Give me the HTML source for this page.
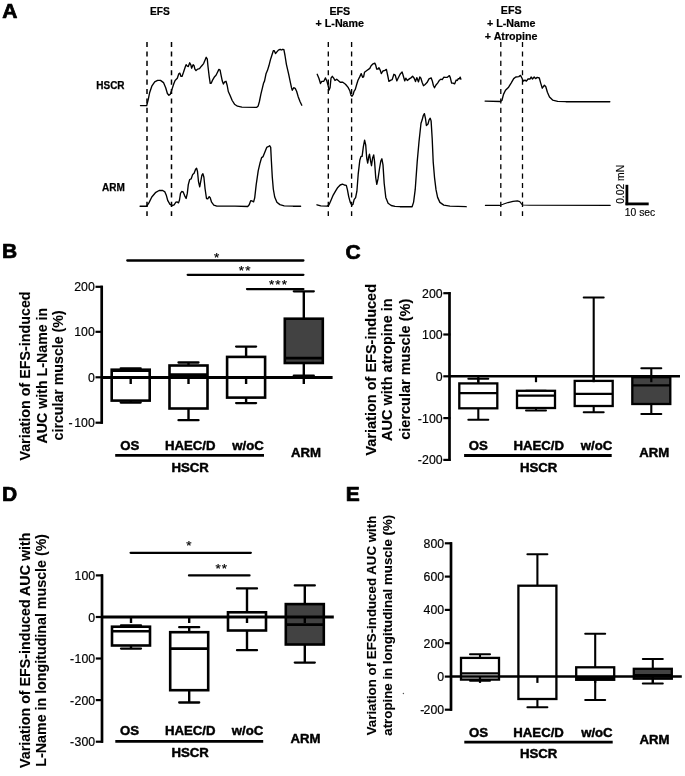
<!DOCTYPE html>
<html lang="en">
<head>
<meta charset="utf-8">
<title>Figure: EFS-induced contractile responses in HSCR and ARM</title>
<style>
html,body{margin:0;padding:0;background:#fff;}
body{width:685px;height:776px;overflow:hidden;}
svg{display:block;}
svg text{font-family:"Liberation Sans", Arial, sans-serif;fill:#000;}
</style>
</head>
<body>
<svg width="685" height="776" viewBox="0 0 685 776">
<rect x="0" y="0" width="685" height="776" fill="#fff"/>
<text x="2.20" y="17.60" font-size="21" font-weight="bold" text-anchor="start" stroke="#000" stroke-width="0.74" stroke-linejoin="round" >A</text>
<text x="159.80" y="14.60" font-size="10.2" font-weight="bold" text-anchor="middle" stroke="#000" stroke-width="0.20" stroke-linejoin="round" >EFS</text>
<text x="124.60" y="89.30" font-size="10" font-weight="bold" text-anchor="end" stroke="#000" stroke-width="0.25" stroke-linejoin="round" >HSCR</text>
<text x="124.80" y="191.40" font-size="10" font-weight="bold" text-anchor="end" stroke="#000" stroke-width="0.25" stroke-linejoin="round" >ARM</text>
<text x="339.80" y="14.80" font-size="10.7" font-weight="bold" text-anchor="middle" stroke="#000" stroke-width="0.21" stroke-linejoin="round" >EFS</text>
<text x="339.80" y="27.20" font-size="10.7" font-weight="bold" text-anchor="middle" stroke="#000" stroke-width="0.21" stroke-linejoin="round" >+ L-Name</text>
<text x="511.20" y="14.00" font-size="10.7" font-weight="bold" text-anchor="middle" stroke="#000" stroke-width="0.21" stroke-linejoin="round" >EFS</text>
<text x="511.20" y="26.60" font-size="10.7" font-weight="bold" text-anchor="middle" stroke="#000" stroke-width="0.21" stroke-linejoin="round" >+ L-Name</text>
<text x="511.20" y="39.60" font-size="10.7" font-weight="bold" text-anchor="middle" stroke="#000" stroke-width="0.21" stroke-linejoin="round" >+ Atropine</text>
<line x1="147.00" y1="42.00" x2="147.00" y2="216.00" stroke="#000" stroke-width="1.5" stroke-linecap="butt" stroke-dasharray="5.1 4.3"/>
<line x1="171.50" y1="42.00" x2="171.50" y2="216.00" stroke="#000" stroke-width="1.5" stroke-linecap="butt" stroke-dasharray="5.1 4.3"/>
<line x1="328.30" y1="42.00" x2="328.30" y2="216.00" stroke="#000" stroke-width="1.35" stroke-linecap="butt" stroke-dasharray="5.1 4.3"/>
<line x1="351.60" y1="42.00" x2="351.60" y2="216.00" stroke="#000" stroke-width="1.35" stroke-linecap="butt" stroke-dasharray="5.1 4.3"/>
<line x1="500.80" y1="42.00" x2="500.80" y2="216.00" stroke="#000" stroke-width="1.3" stroke-linecap="butt" stroke-dasharray="5.1 4.3"/>
<line x1="522.50" y1="42.00" x2="522.50" y2="216.00" stroke="#000" stroke-width="1.3" stroke-linecap="butt" stroke-dasharray="5.1 4.3"/>
<path d="M140.5,105.6 L146.7,105.6 L148.1,100.1 L149.6,92.8 L151.8,86.2 L154.7,81.8 L157.6,80.4 L160.5,80.4 L163.5,82.6 L165.7,87.7 L167.4,93.5 L168.9,95.3 L170.3,94.2 L171.8,89.9 L173.7,84.0 L175.1,80.4 L177.3,78.2 L178.8,73.8 L179.8,73.1 L181.0,76.4 L182.0,76.4 L183.5,72.3 L185.4,66.5 L186.1,64.7 L187.3,66.2 L188.3,66.5 L189.7,62.8 L190.9,65.0 L191.6,68.2 L193.1,64.7 L194.1,65.8 L194.9,69.1 L196.0,70.6 L197.8,69.1 L199.5,68.7 L201.4,66.2 L203.6,63.6 L205.1,59.9 L206.2,57.3 L207.3,59.2 L208.0,66.5 L209.2,76.7 L210.2,83.3 L211.2,83.3 L212.4,80.4 L214.6,76.7 L216.0,75.3 L217.5,72.3 L218.9,69.4 L220.1,70.1 L221.1,75.3 L222.3,81.1 L223.4,84.0 L224.7,81.9 L226.0,81.3 L227.2,85.5 L228.3,91.5 L230.0,95.2 L232.2,100.5 L234.5,104.2 L237.5,106.2 L241.9,107.1 L256.5,107.4 L258.2,105.9 L259.4,101.5 L260.9,94.2 L262.3,88.4 L263.5,83.3 L264.5,81.1 L266.0,73.8 L267.4,70.6 L268.9,65.8 L270.4,59.9 L271.8,55.5 L273.3,50.7 L274.3,50.7 L275.5,53.6 L276.9,51.9 L278.4,50.1 L280.1,49.3 L281.3,50.0 L282.8,49.3 L283.9,49.7 L285.0,55.5 L286.4,64.3 L288.6,73.8 L290.1,81.1 L291.5,87.7 L292.3,90.3 L293.7,87.7 L295.2,88.4 L296.6,91.3 L298.1,96.4 L300.0,101.5 L301.8,105.2" fill="none" stroke="#000" stroke-width="1.35" stroke-linejoin="round" stroke-linecap="round" />
<path d="M140.1,206.2 L146.7,206.2 L148.9,202.9 L151.8,197.0 L155.4,192.7 L159.1,190.5 L162.7,190.5 L164.9,191.9 L166.4,195.6 L167.8,200.7 L170.0,204.3 L172.2,205.5 L174.1,204.8 L175.9,202.2 L177.3,201.9 L178.5,202.9 L179.5,200.0 L180.5,193.4 L181.7,191.5 L183.2,191.9 L184.6,195.6 L186.1,198.5 L187.3,193.4 L188.3,184.6 L189.7,179.5 L191.2,178.8 L192.7,174.4 L194.1,173.2 L195.6,169.3 L196.6,168.3 L197.5,171.5 L198.5,181.7 L199.7,186.8 L200.7,181.7 L201.9,175.1 L202.9,173.7 L203.9,177.3 L205.1,189.0 L206.5,198.5 L207.7,198.9 L209.2,196.6 L210.2,197.8 L211.6,202.2 L213.8,205.1 L216.8,206.1 L235.0,206.2 L247.7,206.5 L249.2,204.8 L250.7,200.7 L252.1,201.0 L253.6,201.9 L254.7,197.8 L256.2,184.6 L258.2,170.8 L260.1,162.7 L261.6,157.6 L263.1,156.6 L265.0,151.8 L266.7,147.4 L268.2,146.7 L269.6,145.7 L270.7,147.4 L271.4,161.3 L272.3,177.3 L273.3,189.0 L274.7,197.0 L276.9,202.2 L279.9,204.6 L284.2,205.8 L293.0,206.2 L300.6,206.2" fill="none" stroke="#000" stroke-width="1.35" stroke-linejoin="round" stroke-linecap="round" />
<path d="M317.2,74.3 L318.9,78.2 L320.5,83.5 L321.8,81.3 L323.8,81.3 L325.5,77.9 L326.8,80.9 L328.1,85.5 L329.1,90.1 L330.1,87.4 L331.0,78.2 L332.3,76.3 L333.7,78.2 L335.0,80.5 L336.7,79.2 L338.2,80.5 L340.2,82.2 L342.8,82.2 L345.5,84.2 L348.1,87.4 L349.8,90.7 L351.0,95.3 L352.0,96.2 L353.1,94.7 L354.0,91.4 L355.3,89.4 L356.6,84.8 L358.0,80.2 L359.7,76.9 L361.2,73.6 L362.6,77.3 L363.6,76.9 L364.5,72.3 L366.5,70.8 L369.8,68.4 L371.1,65.8 L373.1,63.8 L374.8,63.1 L375.7,65.1 L376.7,69.0 L378.1,69.0 L379.0,67.7 L380.3,70.4 L381.3,73.6 L382.9,71.0 L384.9,70.4 L386.4,69.4 L387.6,75.0 L388.9,81.3 L390.9,80.2 L392.2,79.6 L393.9,74.3 L395.2,75.0 L396.8,80.9 L398.1,78.2 L400.1,74.3 L402.1,71.9 L403.4,76.3 L404.7,80.9 L405.8,78.2 L407.3,80.5 L409.3,78.9 L411.3,77.6 L412.6,76.3 L414.2,78.2 L415.5,81.5 L416.8,77.6 L418.5,81.9 L419.8,76.9 L420.9,78.2 L422.1,82.2 L423.5,85.7 L425.1,84.4 L427.0,82.6 L429.0,78.9 L431.2,77.9 L432.3,80.9 L433.4,85.5 L434.5,87.8 L435.8,85.2 L437.6,83.1 L439.5,80.2 L440.8,79.2 L442.2,79.6 L443.9,77.2 L445.4,77.3 L447.4,77.3 L449.4,75.6 L450.3,77.6 L451.6,83.1 L453.1,83.1 L454.6,83.9 L456.2,80.0 L457.3,80.5 L458.3,78.6 L459.2,78.9 L460.2,77.2 L460.9,79.2" fill="none" stroke="#000" stroke-width="1.35" stroke-linejoin="round" stroke-linecap="round" />
<path d="M317.0,204.8 L320.8,205.8 L327.0,206.2 L328.9,205.1 L330.9,200.5 L333.2,195.1 L335.5,191.2 L337.8,187.4 L340.2,185.0 L342.5,184.1 L344.3,185.0 L346.3,185.4 L347.4,189.7 L348.7,196.6 L350.2,202.1 L351.8,205.1 L353.0,204.4 L354.1,199.7 L355.6,197.7 L356.9,191.2 L358.2,174.2 L359.8,160.3 L361.0,156.4 L362.1,156.4 L363.3,147.2 L364.6,140.2 L365.7,144.8 L366.7,158.0 L367.7,163.1 L368.8,156.4 L369.5,154.1 L370.6,161.1 L371.5,165.7 L372.6,158.0 L373.7,154.9 L374.6,161.9 L375.7,177.3 L376.8,184.3 L378.0,178.9 L379.6,168.0 L380.8,161.1 L381.9,158.8 L383.0,164.9 L384.2,183.5 L385.8,197.4 L388.1,203.3 L391.2,205.5 L395.0,206.4 L400.0,206.7 L412.1,206.7 L413.6,202.1 L415.2,189.7 L417.2,161.9 L419.0,141.8 L421.0,123.2 L422.1,120.1 L423.3,115.5 L424.4,113.6 L425.5,118.6 L426.4,125.5 L428.0,124.0 L429.1,119.8 L430.2,118.2 L431.1,120.9 L432.2,138.7 L433.2,161.9 L434.5,177.3 L436.0,189.7 L437.6,197.4 L439.9,202.4 L443.8,205.1 L449.9,206.2 L466.2,206.7" fill="none" stroke="#000" stroke-width="1.35" stroke-linejoin="round" stroke-linecap="round" />
<path d="M485.1,101.1 L500.4,101.5 L501.9,100.5 L503.5,94.4 L505.5,90.3 L508.6,87.2 L511.1,83.1 L513.7,78.6 L515.8,77.0 L518.8,76.6 L520.5,75.4 L521.9,78.0 L523.3,81.1 L525.0,80.1 L526.4,81.1 L528.0,79.0 L530.1,79.0 L531.1,77.0 L532.5,79.0 L534.2,77.0 L535.6,78.6 L537.2,77.4 L539.3,78.0 L540.7,83.1 L542.3,88.2 L544.4,85.2 L545.8,86.8 L547.4,92.3 L549.5,97.0 L552.6,100.1 L557.7,101.3 L565.8,101.7 L609.8,101.7" fill="none" stroke="#000" stroke-width="1.35" stroke-linejoin="round" stroke-linecap="round" />
<path d="M485.4,205.4 L499.5,205.4 L503.0,204.3 L508.0,202.6 L513.0,201.4 L517.4,200.9 L519.8,201.6 L521.5,204.0 L523.0,205.0 L530.0,205.3 L610.2,205.4" fill="none" stroke="#000" stroke-width="1.1" stroke-linejoin="round" stroke-linecap="round" />
<line x1="626.90" y1="184.80" x2="626.90" y2="205.20" stroke="#000" stroke-width="2.8" stroke-linecap="butt" />
<line x1="625.50" y1="203.90" x2="648.70" y2="203.90" stroke="#000" stroke-width="2.8" stroke-linecap="butt" />
<text x="640.00" y="215.50" font-size="10.3" font-weight="normal" text-anchor="middle" stroke="#000" stroke-width="0.15" >10 sec</text>
<text transform="translate(623.90,184.40) rotate(-90)" font-size="10.3" font-weight="normal" text-anchor="middle" stroke="#000" stroke-width="0.15">0.02 mN</text>
<text x="2.00" y="258.00" font-size="21" font-weight="bold" text-anchor="start" stroke="#000" stroke-width="0.74" stroke-linejoin="round" >B</text>
<text transform="translate(30.10,376.00) rotate(-90)" font-size="14.3" font-weight="bold" text-anchor="middle" stroke="#000" stroke-width="0.11" stroke-linejoin="round">Variation of EFS-induced</text>
<text transform="translate(46.60,375.60) rotate(-90)" font-size="14.2" font-weight="bold" text-anchor="middle" stroke="#000" stroke-width="0.11" stroke-linejoin="round">AUC with L-Name in</text>
<text transform="translate(62.60,375.40) rotate(-90)" font-size="14.2" font-weight="bold" text-anchor="middle" stroke="#000" stroke-width="0.11" stroke-linejoin="round">circular muscle (%)</text>
<line x1="101.70" y1="285.70" x2="101.70" y2="423.80" stroke="#000" stroke-width="2.7" stroke-linecap="butt" />
<line x1="95.50" y1="286.80" x2="102.70" y2="286.80" stroke="#000" stroke-width="2.2" stroke-linecap="butt" />
<text x="94.80" y="291.30" font-size="12.3" font-weight="normal" text-anchor="end" stroke="#000" stroke-width="0.18" >200</text>
<line x1="95.50" y1="331.80" x2="102.70" y2="331.80" stroke="#000" stroke-width="2.2" stroke-linecap="butt" />
<text x="94.80" y="336.30" font-size="12.3" font-weight="normal" text-anchor="end" stroke="#000" stroke-width="0.18" >100</text>
<line x1="95.50" y1="377.30" x2="102.70" y2="377.30" stroke="#000" stroke-width="2.2" stroke-linecap="butt" />
<text x="94.80" y="381.80" font-size="12.3" font-weight="normal" text-anchor="end" stroke="#000" stroke-width="0.18" >0</text>
<line x1="95.50" y1="422.70" x2="102.70" y2="422.70" stroke="#000" stroke-width="2.2" stroke-linecap="butt" />
<text x="94.80" y="427.20" font-size="12.3" font-weight="normal" text-anchor="end" stroke="#000" stroke-width="0.18" >-<tspan dx="1.6">100</tspan></text>
<line x1="127.30" y1="260.50" x2="303.40" y2="260.50" stroke="#000" stroke-width="2.3" stroke-linecap="round" />
<line x1="187.70" y1="274.80" x2="303.40" y2="274.80" stroke="#000" stroke-width="2.3" stroke-linecap="round" />
<line x1="247.00" y1="289.10" x2="303.40" y2="289.10" stroke="#000" stroke-width="2.3" stroke-linecap="round" />
<text x="217.30" y="262.00" font-size="13.5" font-weight="normal" text-anchor="middle" stroke="#000" stroke-width="0.20" letter-spacing="1.15">*</text>
<text x="245.20" y="275.40" font-size="13.5" font-weight="normal" text-anchor="middle" stroke="#000" stroke-width="0.20" letter-spacing="1.15">**</text>
<text x="278.50" y="289.00" font-size="13.5" font-weight="normal" text-anchor="middle" stroke="#000" stroke-width="0.20" letter-spacing="1.15">***</text>
<line x1="130.70" y1="368.30" x2="130.70" y2="369.70" stroke="#000" stroke-width="2.4" stroke-linecap="butt" />
<line x1="130.70" y1="400.60" x2="130.70" y2="402.60" stroke="#000" stroke-width="2.4" stroke-linecap="butt" />
<line x1="120.70" y1="368.30" x2="140.70" y2="368.30" stroke="#000" stroke-width="2.3000000000000003" stroke-linecap="round" />
<line x1="120.70" y1="402.60" x2="140.70" y2="402.60" stroke="#000" stroke-width="2.3000000000000003" stroke-linecap="round" />
<rect x="111.70" y="369.70" width="38.00" height="30.90" fill="#fff" stroke="#000" stroke-width="2.6"/>
<line x1="111.70" y1="370.80" x2="149.70" y2="370.80" stroke="#000" stroke-width="2.6" stroke-linecap="butt" />
<line x1="188.50" y1="362.50" x2="188.50" y2="365.50" stroke="#000" stroke-width="2.4" stroke-linecap="butt" />
<line x1="188.50" y1="408.50" x2="188.50" y2="420.20" stroke="#000" stroke-width="2.4" stroke-linecap="butt" />
<line x1="178.50" y1="362.50" x2="198.50" y2="362.50" stroke="#000" stroke-width="2.3000000000000003" stroke-linecap="round" />
<line x1="178.50" y1="420.20" x2="198.50" y2="420.20" stroke="#000" stroke-width="2.3000000000000003" stroke-linecap="round" />
<rect x="169.50" y="365.50" width="38.00" height="43.00" fill="#fff" stroke="#000" stroke-width="2.6"/>
<line x1="169.50" y1="374.60" x2="207.50" y2="374.60" stroke="#000" stroke-width="2.6" stroke-linecap="butt" />
<line x1="246.10" y1="346.60" x2="246.10" y2="356.90" stroke="#000" stroke-width="2.4" stroke-linecap="butt" />
<line x1="246.10" y1="397.60" x2="246.10" y2="403.10" stroke="#000" stroke-width="2.4" stroke-linecap="butt" />
<line x1="236.10" y1="346.60" x2="256.10" y2="346.60" stroke="#000" stroke-width="2.3000000000000003" stroke-linecap="round" />
<line x1="236.10" y1="403.10" x2="256.10" y2="403.10" stroke="#000" stroke-width="2.3000000000000003" stroke-linecap="round" />
<rect x="227.10" y="356.90" width="38.00" height="40.70" fill="#fff" stroke="#000" stroke-width="2.6"/>
<line x1="303.80" y1="291.30" x2="303.80" y2="318.70" stroke="#000" stroke-width="2.4" stroke-linecap="butt" />
<line x1="303.80" y1="363.00" x2="303.80" y2="375.60" stroke="#000" stroke-width="2.4" stroke-linecap="butt" />
<line x1="293.80" y1="291.30" x2="313.80" y2="291.30" stroke="#000" stroke-width="2.3000000000000003" stroke-linecap="round" />
<line x1="293.80" y1="375.60" x2="313.80" y2="375.60" stroke="#000" stroke-width="2.3000000000000003" stroke-linecap="round" />
<rect x="284.80" y="318.70" width="38.00" height="44.30" fill="#424242" stroke="#000" stroke-width="2.6"/>
<line x1="284.80" y1="358.10" x2="322.80" y2="358.10" stroke="#000" stroke-width="2.6" stroke-linecap="butt" />
<line x1="101.70" y1="377.50" x2="332.60" y2="377.50" stroke="#000" stroke-width="3.0" stroke-linecap="butt" />
<line x1="130.70" y1="377.00" x2="130.70" y2="384.00" stroke="#000" stroke-width="2.4" stroke-linecap="butt" />
<line x1="188.50" y1="377.00" x2="188.50" y2="384.00" stroke="#000" stroke-width="2.4" stroke-linecap="butt" />
<line x1="246.10" y1="377.00" x2="246.10" y2="384.00" stroke="#000" stroke-width="2.4" stroke-linecap="butt" />
<line x1="303.80" y1="377.00" x2="303.80" y2="384.00" stroke="#000" stroke-width="2.4" stroke-linecap="butt" />
<text x="129.70" y="449.60" font-size="13.2" font-weight="bold" text-anchor="middle" stroke="#000" stroke-width="0.46" stroke-linejoin="round" >OS</text>
<text x="190.20" y="449.60" font-size="13.2" font-weight="bold" text-anchor="middle" stroke="#000" stroke-width="0.46" stroke-linejoin="round" >HAEC/D</text>
<text x="248.00" y="449.60" font-size="13.2" font-weight="bold" text-anchor="middle" stroke="#000" stroke-width="0.46" stroke-linejoin="round" >w/oC</text>
<text x="305.90" y="456.80" font-size="13.2" font-weight="bold" text-anchor="middle" stroke="#000" stroke-width="0.46" stroke-linejoin="round" >ARM</text>
<line x1="115.20" y1="455.30" x2="264.00" y2="455.30" stroke="#000" stroke-width="2.8" stroke-linecap="butt" />
<text x="190.20" y="472.00" font-size="13.2" font-weight="bold" text-anchor="middle" stroke="#000" stroke-width="0.46" stroke-linejoin="round" >HSCR</text>
<text x="345.60" y="258.60" font-size="21" font-weight="bold" text-anchor="start" stroke="#000" stroke-width="0.74" stroke-linejoin="round" >C</text>
<text transform="translate(376.40,369.80) rotate(-90)" font-size="14.5" font-weight="bold" text-anchor="middle" stroke="#000" stroke-width="0.12" stroke-linejoin="round">Variation of EFS-induced</text>
<text transform="translate(392.40,369.60) rotate(-90)" font-size="14.5" font-weight="bold" text-anchor="middle" stroke="#000" stroke-width="0.12" stroke-linejoin="round">AUC with atropine in</text>
<text transform="translate(410.30,369.30) rotate(-90)" font-size="14.5" font-weight="bold" text-anchor="middle" stroke="#000" stroke-width="0.12" stroke-linejoin="round">ciercular muscle (%)</text>
<line x1="449.50" y1="292.10" x2="449.50" y2="461.00" stroke="#000" stroke-width="2.7" stroke-linecap="butt" />
<line x1="443.30" y1="293.20" x2="450.50" y2="293.20" stroke="#000" stroke-width="2.2" stroke-linecap="butt" />
<text x="442.60" y="297.70" font-size="12.3" font-weight="normal" text-anchor="end" stroke="#000" stroke-width="0.18" >200</text>
<line x1="443.30" y1="334.50" x2="450.50" y2="334.50" stroke="#000" stroke-width="2.2" stroke-linecap="butt" />
<text x="442.60" y="339.00" font-size="12.3" font-weight="normal" text-anchor="end" stroke="#000" stroke-width="0.18" >100</text>
<line x1="443.30" y1="376.30" x2="450.50" y2="376.30" stroke="#000" stroke-width="2.2" stroke-linecap="butt" />
<text x="442.60" y="380.80" font-size="12.3" font-weight="normal" text-anchor="end" stroke="#000" stroke-width="0.18" >0</text>
<line x1="443.30" y1="418.10" x2="450.50" y2="418.10" stroke="#000" stroke-width="2.2" stroke-linecap="butt" />
<text x="442.60" y="422.60" font-size="12.3" font-weight="normal" text-anchor="end" stroke="#000" stroke-width="0.18" >-<tspan dx="0.3">100</tspan></text>
<line x1="443.30" y1="459.90" x2="450.50" y2="459.90" stroke="#000" stroke-width="2.2" stroke-linecap="butt" />
<text x="442.60" y="464.40" font-size="12.3" font-weight="normal" text-anchor="end" stroke="#000" stroke-width="0.18" >-<tspan dx="0.3">200</tspan></text>
<line x1="478.30" y1="378.80" x2="478.30" y2="383.40" stroke="#000" stroke-width="2.0999999999999996" stroke-linecap="butt" />
<line x1="478.30" y1="408.30" x2="478.30" y2="419.80" stroke="#000" stroke-width="2.0999999999999996" stroke-linecap="butt" />
<line x1="468.30" y1="378.80" x2="488.30" y2="378.80" stroke="#000" stroke-width="1.9999999999999998" stroke-linecap="round" />
<line x1="468.30" y1="419.80" x2="488.30" y2="419.80" stroke="#000" stroke-width="1.9999999999999998" stroke-linecap="round" />
<rect x="459.30" y="383.40" width="38.00" height="24.90" fill="#fff" stroke="#000" stroke-width="2.3"/>
<line x1="459.30" y1="393.20" x2="497.30" y2="393.20" stroke="#000" stroke-width="2.3" stroke-linecap="butt" />
<line x1="536.00" y1="390.80" x2="536.00" y2="390.80" stroke="#000" stroke-width="2.0999999999999996" stroke-linecap="butt" />
<line x1="536.00" y1="408.00" x2="536.00" y2="410.60" stroke="#000" stroke-width="2.0999999999999996" stroke-linecap="butt" />
<line x1="526.00" y1="390.80" x2="546.00" y2="390.80" stroke="#000" stroke-width="1.9999999999999998" stroke-linecap="round" />
<line x1="526.00" y1="410.60" x2="546.00" y2="410.60" stroke="#000" stroke-width="1.9999999999999998" stroke-linecap="round" />
<rect x="517.00" y="390.80" width="38.00" height="17.20" fill="#fff" stroke="#000" stroke-width="2.3"/>
<line x1="517.00" y1="395.60" x2="555.00" y2="395.60" stroke="#000" stroke-width="2.3" stroke-linecap="butt" />
<line x1="593.70" y1="297.60" x2="593.70" y2="380.90" stroke="#000" stroke-width="2.0999999999999996" stroke-linecap="butt" />
<line x1="593.70" y1="406.00" x2="593.70" y2="412.20" stroke="#000" stroke-width="2.0999999999999996" stroke-linecap="butt" />
<line x1="583.70" y1="297.60" x2="603.70" y2="297.60" stroke="#000" stroke-width="1.9999999999999998" stroke-linecap="round" />
<line x1="583.70" y1="412.20" x2="603.70" y2="412.20" stroke="#000" stroke-width="1.9999999999999998" stroke-linecap="round" />
<rect x="574.70" y="380.90" width="38.00" height="25.10" fill="#fff" stroke="#000" stroke-width="2.3"/>
<line x1="574.70" y1="393.90" x2="612.70" y2="393.90" stroke="#000" stroke-width="2.3" stroke-linecap="butt" />
<line x1="651.30" y1="368.20" x2="651.30" y2="377.20" stroke="#000" stroke-width="2.0999999999999996" stroke-linecap="butt" />
<line x1="651.30" y1="404.00" x2="651.30" y2="414.00" stroke="#000" stroke-width="2.0999999999999996" stroke-linecap="butt" />
<line x1="641.30" y1="368.20" x2="661.30" y2="368.20" stroke="#000" stroke-width="1.9999999999999998" stroke-linecap="round" />
<line x1="641.30" y1="414.00" x2="661.30" y2="414.00" stroke="#000" stroke-width="1.9999999999999998" stroke-linecap="round" />
<rect x="632.30" y="377.20" width="38.00" height="26.80" fill="#424242" stroke="#000" stroke-width="2.3"/>
<line x1="632.30" y1="385.40" x2="670.30" y2="385.40" stroke="#000" stroke-width="2.3" stroke-linecap="butt" />
<line x1="449.50" y1="376.30" x2="680.00" y2="376.30" stroke="#000" stroke-width="2.6" stroke-linecap="butt" />
<line x1="478.30" y1="376.30" x2="478.30" y2="382.20" stroke="#000" stroke-width="2.2" stroke-linecap="butt" />
<line x1="536.00" y1="376.30" x2="536.00" y2="382.20" stroke="#000" stroke-width="2.2" stroke-linecap="butt" />
<line x1="593.70" y1="376.30" x2="593.70" y2="382.20" stroke="#000" stroke-width="2.2" stroke-linecap="butt" />
<line x1="651.30" y1="376.30" x2="651.30" y2="382.20" stroke="#000" stroke-width="2.2" stroke-linecap="butt" />
<text x="478.20" y="449.70" font-size="13.2" font-weight="bold" text-anchor="middle" stroke="#000" stroke-width="0.46" stroke-linejoin="round" >OS</text>
<text x="538.70" y="449.70" font-size="13.2" font-weight="bold" text-anchor="middle" stroke="#000" stroke-width="0.46" stroke-linejoin="round" >HAEC/D</text>
<text x="596.50" y="449.70" font-size="13.2" font-weight="bold" text-anchor="middle" stroke="#000" stroke-width="0.46" stroke-linejoin="round" >w/oC</text>
<text x="654.20" y="456.90" font-size="13.2" font-weight="bold" text-anchor="middle" stroke="#000" stroke-width="0.46" stroke-linejoin="round" >ARM</text>
<line x1="464.10" y1="455.50" x2="611.70" y2="455.50" stroke="#000" stroke-width="2.8" stroke-linecap="butt" />
<text x="538.70" y="472.00" font-size="13.2" font-weight="bold" text-anchor="middle" stroke="#000" stroke-width="0.46" stroke-linejoin="round" >HSCR</text>
<text x="2.00" y="501.00" font-size="21" font-weight="bold" text-anchor="start" stroke="#000" stroke-width="0.74" stroke-linejoin="round" >D</text>
<text transform="translate(29.90,650.30) rotate(-90)" font-size="14.25" font-weight="bold" text-anchor="middle" stroke="#000" stroke-width="0.11" stroke-linejoin="round">Variation of EFS-induced AUC with</text>
<text transform="translate(46.30,650.30) rotate(-90)" font-size="14.25" font-weight="bold" text-anchor="middle" stroke="#000" stroke-width="0.11" stroke-linejoin="round">L-Name in longitudinal muscle (%)</text>
<line x1="102.00" y1="574.30" x2="102.00" y2="742.80" stroke="#000" stroke-width="2.7" stroke-linecap="butt" />
<line x1="95.80" y1="575.40" x2="103.00" y2="575.40" stroke="#000" stroke-width="2.2" stroke-linecap="butt" />
<text x="95.10" y="579.90" font-size="12.3" font-weight="normal" text-anchor="end" stroke="#000" stroke-width="0.18" >100</text>
<line x1="95.80" y1="617.00" x2="103.00" y2="617.00" stroke="#000" stroke-width="2.2" stroke-linecap="butt" />
<text x="95.10" y="621.50" font-size="12.3" font-weight="normal" text-anchor="end" stroke="#000" stroke-width="0.18" >0</text>
<line x1="95.80" y1="658.50" x2="103.00" y2="658.50" stroke="#000" stroke-width="2.2" stroke-linecap="butt" />
<text x="95.10" y="663.00" font-size="12.3" font-weight="normal" text-anchor="end" stroke="#000" stroke-width="0.18" >-<tspan dx="0.4">100</tspan></text>
<line x1="95.80" y1="700.10" x2="103.00" y2="700.10" stroke="#000" stroke-width="2.2" stroke-linecap="butt" />
<text x="95.10" y="704.60" font-size="12.3" font-weight="normal" text-anchor="end" stroke="#000" stroke-width="0.18" >-<tspan dx="0.4">200</tspan></text>
<line x1="95.80" y1="741.70" x2="103.00" y2="741.70" stroke="#000" stroke-width="2.2" stroke-linecap="butt" />
<text x="95.10" y="746.20" font-size="12.3" font-weight="normal" text-anchor="end" stroke="#000" stroke-width="0.18" >-<tspan dx="0.4">300</tspan></text>
<line x1="130.60" y1="552.80" x2="250.80" y2="552.80" stroke="#000" stroke-width="2.3" stroke-linecap="round" />
<line x1="189.00" y1="575.40" x2="249.50" y2="575.40" stroke="#000" stroke-width="2.3" stroke-linecap="round" />
<text x="189.50" y="549.50" font-size="13.5" font-weight="normal" text-anchor="middle" stroke="#000" stroke-width="0.20" letter-spacing="1.15">*</text>
<text x="221.80" y="572.90" font-size="13.5" font-weight="normal" text-anchor="middle" stroke="#000" stroke-width="0.20" letter-spacing="1.15">**</text>
<line x1="131.00" y1="625.50" x2="131.00" y2="626.70" stroke="#000" stroke-width="2.4" stroke-linecap="butt" />
<line x1="131.00" y1="645.50" x2="131.00" y2="648.60" stroke="#000" stroke-width="2.4" stroke-linecap="butt" />
<line x1="121.00" y1="625.50" x2="141.00" y2="625.50" stroke="#000" stroke-width="2.3000000000000003" stroke-linecap="round" />
<line x1="121.00" y1="648.60" x2="141.00" y2="648.60" stroke="#000" stroke-width="2.3000000000000003" stroke-linecap="round" />
<rect x="112.00" y="626.70" width="38.00" height="18.80" fill="#fff" stroke="#000" stroke-width="2.6"/>
<line x1="112.00" y1="631.30" x2="150.00" y2="631.30" stroke="#000" stroke-width="2.6" stroke-linecap="butt" />
<line x1="189.20" y1="627.20" x2="189.20" y2="632.20" stroke="#000" stroke-width="2.4" stroke-linecap="butt" />
<line x1="189.20" y1="690.20" x2="189.20" y2="702.50" stroke="#000" stroke-width="2.4" stroke-linecap="butt" />
<line x1="179.20" y1="627.20" x2="199.20" y2="627.20" stroke="#000" stroke-width="2.3000000000000003" stroke-linecap="round" />
<line x1="179.20" y1="702.50" x2="199.20" y2="702.50" stroke="#000" stroke-width="2.3000000000000003" stroke-linecap="round" />
<rect x="170.20" y="632.20" width="38.00" height="58.00" fill="#fff" stroke="#000" stroke-width="2.6"/>
<line x1="170.20" y1="648.60" x2="208.20" y2="648.60" stroke="#000" stroke-width="2.6" stroke-linecap="butt" />
<line x1="247.00" y1="588.40" x2="247.00" y2="612.30" stroke="#000" stroke-width="2.4" stroke-linecap="butt" />
<line x1="247.00" y1="630.50" x2="247.00" y2="650.20" stroke="#000" stroke-width="2.4" stroke-linecap="butt" />
<line x1="237.00" y1="588.40" x2="257.00" y2="588.40" stroke="#000" stroke-width="2.3000000000000003" stroke-linecap="round" />
<line x1="237.00" y1="650.20" x2="257.00" y2="650.20" stroke="#000" stroke-width="2.3000000000000003" stroke-linecap="round" />
<rect x="228.00" y="612.30" width="38.00" height="18.20" fill="#fff" stroke="#000" stroke-width="2.6"/>
<line x1="304.80" y1="585.40" x2="304.80" y2="604.10" stroke="#000" stroke-width="2.4" stroke-linecap="butt" />
<line x1="304.80" y1="644.50" x2="304.80" y2="662.60" stroke="#000" stroke-width="2.4" stroke-linecap="butt" />
<line x1="294.80" y1="585.40" x2="314.80" y2="585.40" stroke="#000" stroke-width="2.3000000000000003" stroke-linecap="round" />
<line x1="294.80" y1="662.60" x2="314.80" y2="662.60" stroke="#000" stroke-width="2.3000000000000003" stroke-linecap="round" />
<rect x="285.80" y="604.10" width="38.00" height="40.40" fill="#424242" stroke="#000" stroke-width="2.6"/>
<line x1="285.80" y1="624.60" x2="323.80" y2="624.60" stroke="#000" stroke-width="2.6" stroke-linecap="butt" />
<line x1="102.00" y1="617.00" x2="333.80" y2="617.00" stroke="#000" stroke-width="3.0" stroke-linecap="butt" />
<line x1="131.00" y1="617.00" x2="131.00" y2="623.00" stroke="#000" stroke-width="2.4" stroke-linecap="butt" />
<line x1="189.20" y1="617.00" x2="189.20" y2="623.00" stroke="#000" stroke-width="2.4" stroke-linecap="butt" />
<line x1="247.00" y1="617.00" x2="247.00" y2="623.00" stroke="#000" stroke-width="2.4" stroke-linecap="butt" />
<line x1="304.80" y1="617.00" x2="304.80" y2="623.00" stroke="#000" stroke-width="2.4" stroke-linecap="butt" />
<text x="129.60" y="735.20" font-size="13.2" font-weight="bold" text-anchor="middle" stroke="#000" stroke-width="0.46" stroke-linejoin="round" >OS</text>
<text x="190.20" y="735.20" font-size="13.2" font-weight="bold" text-anchor="middle" stroke="#000" stroke-width="0.46" stroke-linejoin="round" >HAEC/D</text>
<text x="247.50" y="735.20" font-size="13.2" font-weight="bold" text-anchor="middle" stroke="#000" stroke-width="0.46" stroke-linejoin="round" >w/oC</text>
<text x="305.60" y="742.60" font-size="13.2" font-weight="bold" text-anchor="middle" stroke="#000" stroke-width="0.46" stroke-linejoin="round" >ARM</text>
<line x1="115.30" y1="741.30" x2="263.20" y2="741.30" stroke="#000" stroke-width="2.8" stroke-linecap="butt" />
<text x="190.20" y="756.80" font-size="13.2" font-weight="bold" text-anchor="middle" stroke="#000" stroke-width="0.46" stroke-linejoin="round" >HSCR</text>
<text x="345.80" y="501.00" font-size="21" font-weight="bold" text-anchor="start" stroke="#000" stroke-width="0.74" stroke-linejoin="round" >E</text>
<text transform="translate(376.30,625.50) rotate(-90)" font-size="13.3" font-weight="bold" text-anchor="middle" stroke="#000" stroke-width="0.11" stroke-linejoin="round">Variation of EFS-induced AUC with</text>
<text transform="translate(392.40,625.30) rotate(-90)" font-size="13.3" font-weight="bold" text-anchor="middle" stroke="#000" stroke-width="0.11" stroke-linejoin="round">atropine in longitudinal muscle (%)</text>
<line x1="451.00" y1="542.20" x2="451.00" y2="710.80" stroke="#000" stroke-width="2.7" stroke-linecap="butt" />
<line x1="444.80" y1="543.30" x2="452.00" y2="543.30" stroke="#000" stroke-width="2.2" stroke-linecap="butt" />
<text x="444.10" y="547.80" font-size="12.3" font-weight="normal" text-anchor="end" stroke="#000" stroke-width="0.18" >800</text>
<line x1="444.80" y1="576.60" x2="452.00" y2="576.60" stroke="#000" stroke-width="2.2" stroke-linecap="butt" />
<text x="444.10" y="581.10" font-size="12.3" font-weight="normal" text-anchor="end" stroke="#000" stroke-width="0.18" >600</text>
<line x1="444.80" y1="609.90" x2="452.00" y2="609.90" stroke="#000" stroke-width="2.2" stroke-linecap="butt" />
<text x="444.10" y="614.40" font-size="12.3" font-weight="normal" text-anchor="end" stroke="#000" stroke-width="0.18" >400</text>
<line x1="444.80" y1="643.20" x2="452.00" y2="643.20" stroke="#000" stroke-width="2.2" stroke-linecap="butt" />
<text x="444.10" y="647.70" font-size="12.3" font-weight="normal" text-anchor="end" stroke="#000" stroke-width="0.18" >200</text>
<line x1="444.80" y1="676.60" x2="452.00" y2="676.60" stroke="#000" stroke-width="2.2" stroke-linecap="butt" />
<text x="444.10" y="681.10" font-size="12.3" font-weight="normal" text-anchor="end" stroke="#000" stroke-width="0.18" >0</text>
<line x1="444.80" y1="709.70" x2="452.00" y2="709.70" stroke="#000" stroke-width="2.2" stroke-linecap="butt" />
<text x="444.10" y="714.20" font-size="12.3" font-weight="normal" text-anchor="end" stroke="#000" stroke-width="0.18" >-<tspan dx="-0.9">200</tspan></text>
<line x1="480.00" y1="654.20" x2="480.00" y2="657.90" stroke="#000" stroke-width="2.0999999999999996" stroke-linecap="butt" />
<line x1="480.00" y1="679.60" x2="480.00" y2="680.80" stroke="#000" stroke-width="2.0999999999999996" stroke-linecap="butt" />
<line x1="470.00" y1="654.20" x2="490.00" y2="654.20" stroke="#000" stroke-width="1.9999999999999998" stroke-linecap="round" />
<line x1="470.00" y1="680.80" x2="490.00" y2="680.80" stroke="#000" stroke-width="1.9999999999999998" stroke-linecap="round" />
<rect x="461.00" y="657.90" width="38.00" height="21.70" fill="#fff" stroke="#000" stroke-width="2.3"/>
<line x1="461.00" y1="673.30" x2="499.00" y2="673.30" stroke="#000" stroke-width="2.3" stroke-linecap="butt" />
<line x1="537.40" y1="554.30" x2="537.40" y2="585.70" stroke="#000" stroke-width="2.0999999999999996" stroke-linecap="butt" />
<line x1="537.40" y1="699.00" x2="537.40" y2="707.30" stroke="#000" stroke-width="2.0999999999999996" stroke-linecap="butt" />
<line x1="527.40" y1="554.30" x2="547.40" y2="554.30" stroke="#000" stroke-width="1.9999999999999998" stroke-linecap="round" />
<line x1="527.40" y1="707.30" x2="547.40" y2="707.30" stroke="#000" stroke-width="1.9999999999999998" stroke-linecap="round" />
<rect x="518.40" y="585.70" width="38.00" height="113.30" fill="#fff" stroke="#000" stroke-width="2.3"/>
<line x1="595.20" y1="633.80" x2="595.20" y2="667.30" stroke="#000" stroke-width="2.0999999999999996" stroke-linecap="butt" />
<line x1="595.20" y1="679.80" x2="595.20" y2="699.90" stroke="#000" stroke-width="2.0999999999999996" stroke-linecap="butt" />
<line x1="585.20" y1="633.80" x2="605.20" y2="633.80" stroke="#000" stroke-width="1.9999999999999998" stroke-linecap="round" />
<line x1="585.20" y1="699.90" x2="605.20" y2="699.90" stroke="#000" stroke-width="1.9999999999999998" stroke-linecap="round" />
<rect x="576.20" y="667.30" width="38.00" height="12.50" fill="#fff" stroke="#000" stroke-width="2.3"/>
<line x1="576.20" y1="678.20" x2="614.20" y2="678.20" stroke="#000" stroke-width="2.3" stroke-linecap="butt" />
<line x1="652.80" y1="659.00" x2="652.80" y2="668.80" stroke="#000" stroke-width="2.0999999999999996" stroke-linecap="butt" />
<line x1="652.80" y1="678.70" x2="652.80" y2="683.60" stroke="#000" stroke-width="2.0999999999999996" stroke-linecap="butt" />
<line x1="642.80" y1="659.00" x2="662.80" y2="659.00" stroke="#000" stroke-width="1.9999999999999998" stroke-linecap="round" />
<line x1="642.80" y1="683.60" x2="662.80" y2="683.60" stroke="#000" stroke-width="1.9999999999999998" stroke-linecap="round" />
<rect x="633.80" y="668.80" width="38.00" height="9.90" fill="#424242" stroke="#000" stroke-width="2.3"/>
<line x1="633.80" y1="675.20" x2="671.80" y2="675.20" stroke="#000" stroke-width="2.3" stroke-linecap="butt" />
<line x1="451.00" y1="676.50" x2="681.80" y2="676.50" stroke="#000" stroke-width="2.5" stroke-linecap="butt" />
<line x1="480.00" y1="676.70" x2="480.00" y2="682.90" stroke="#000" stroke-width="2.2" stroke-linecap="butt" />
<line x1="537.40" y1="676.70" x2="537.40" y2="682.90" stroke="#000" stroke-width="2.2" stroke-linecap="butt" />
<line x1="595.20" y1="676.70" x2="595.20" y2="682.90" stroke="#000" stroke-width="2.2" stroke-linecap="butt" />
<line x1="652.80" y1="676.70" x2="652.80" y2="682.90" stroke="#000" stroke-width="2.2" stroke-linecap="butt" />
<text x="478.60" y="736.60" font-size="13.2" font-weight="bold" text-anchor="middle" stroke="#000" stroke-width="0.46" stroke-linejoin="round" >OS</text>
<text x="538.60" y="736.60" font-size="13.2" font-weight="bold" text-anchor="middle" stroke="#000" stroke-width="0.46" stroke-linejoin="round" >HAEC/D</text>
<text x="596.90" y="736.60" font-size="13.2" font-weight="bold" text-anchor="middle" stroke="#000" stroke-width="0.46" stroke-linejoin="round" >w/oC</text>
<text x="654.60" y="744.00" font-size="13.2" font-weight="bold" text-anchor="middle" stroke="#000" stroke-width="0.46" stroke-linejoin="round" >ARM</text>
<line x1="464.30" y1="742.20" x2="612.70" y2="742.20" stroke="#000" stroke-width="2.8" stroke-linecap="butt" />
<text x="538.60" y="758.30" font-size="13.2" font-weight="bold" text-anchor="middle" stroke="#000" stroke-width="0.46" stroke-linejoin="round" >HSCR</text>
<circle cx="403.4" cy="693.5" r="0.7" fill="#555"/>
</svg>
</body>
</html>
